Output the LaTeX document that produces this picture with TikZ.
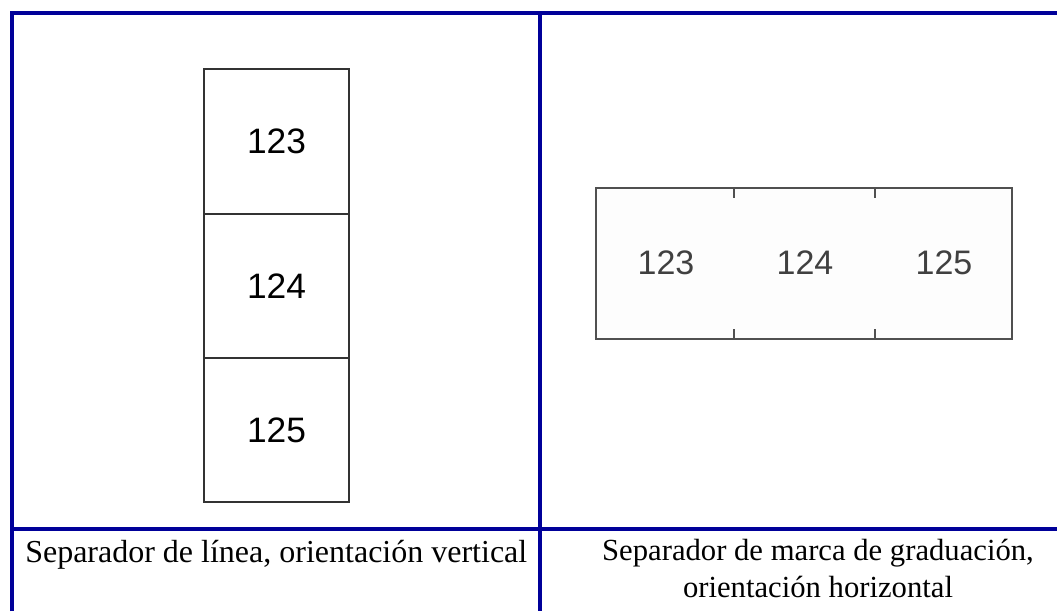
\documentclass[tikz,border=0pt]{standalone}
\usepackage{fontspec}
\setmainfont{Liberation Serif}
\newfontfamily\arialf{Liberation Sans}
\definecolor{tblue}{RGB}{0,0,153}
\definecolor{boxline}{RGB}{51,51,51}
\definecolor{hline}{RGB}{80,80,80}
\definecolor{htext}{RGB}{64,64,64}
\definecolor{hfill}{RGB}{253,253,253}
\begin{document}
\begin{tikzpicture}[x=0.75pt,y=-0.75pt,
  tblline/.style={draw=tblue,line width=3pt},
  vbox/.style={draw=boxline,line width=1.4pt,minimum width=108.75pt,minimum height=108.3pt,inner sep=0pt,
     font=\arialf\fontsize{26.5}{30}\selectfont,text=black},
  hnum/.style={font=\arialf\fontsize{25.5}{30}\selectfont,text=htext,inner sep=0pt},
  hframe/.style={draw=hline,line width=1.6pt,fill=hfill},
  tick/.style={draw=hline,line width=1.8pt},
  caption/.style={font=\fontsize{24}{27.75}\selectfont,inner sep=0pt},
  caption2/.style={font=\fontsize{23}{27.75}\selectfont,inner sep=0pt}]
\useasboundingbox (0,0) rectangle (1057,611);
% table lines
\coordinate (tl) at (12,13);
\coordinate (tr) at (1057,13);
\coordinate (bl) at (12,611);
\coordinate (mt) at (539.5,13);
\coordinate (mb) at (539.5,611);
\coordinate (hl) at (12,529);
\coordinate (hr) at (1057,529);
\draw[tblline] (bl) -- (tl) -- (tr);
\draw[tblline] (mt) -- (mb);
\draw[tblline] (hl) -- (hr);
% vertical separator labels
\node[vbox] (v1) at (276.5,141.5) {123};
\node[vbox] (v2) at (276.5,286) {124};
\node[vbox] (v3) at (276.5,430) {125};
% horizontal tick-mark label
\draw[hframe] (596,188) rectangle (1012,339);
\foreach \x in {734,875}{
  \draw[tick] (\x,188) -- (\x,198);
  \draw[tick] (\x,339) -- (\x,329);
}
\node[hnum] (h1) at (666,263) {123};
\node[hnum] (h2) at (805,263) {124};
\node[hnum] (h3) at (944,263) {125};
% captions
\node[caption,anchor=base west] (c1) at (25,562) {Separador de línea, orientación vertical};
\node[caption2,anchor=base] (c2a) at (818,560) {Separador de marca de graduación,};
\node[caption2,anchor=base] (c2b) at (818,597) {orientación horizontal};
\end{tikzpicture}
\end{document}
